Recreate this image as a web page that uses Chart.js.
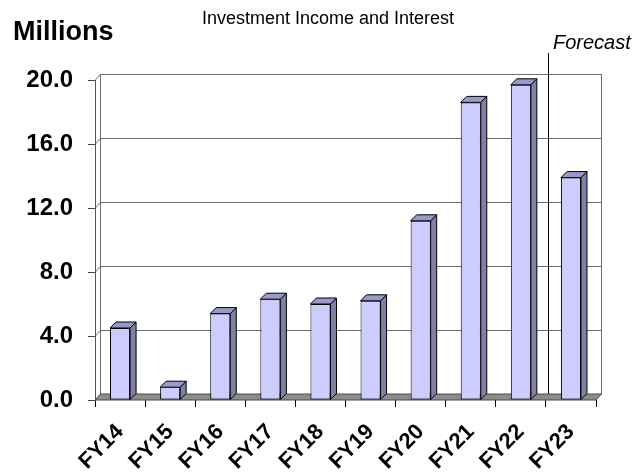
<!DOCTYPE html>
<html lang="en">
<head>
  <meta charset="UTF-8" />
  <title>Investment Income and Interest</title>
  <script src="https://cdn.jsdelivr.net/npm/chart.js"></script>
  <style>
    * { box-sizing: border-box; margin: 0; padding: 0; }
    body { background: #fff; width: 634px; height: 475px; overflow: hidden; }
    #chart { display: block; }
  </style>
</head>
<body>
  <canvas id="chart" width="634" height="475"></canvas>

  <script>
    // Data
    const categories = ['FY14', 'FY15', 'FY16', 'FY17', 'FY18', 'FY19', 'FY20', 'FY21', 'FY22', 'FY23'];
    const incomeValues = [4.5, 0.8, 5.4, 6.3, 6.0, 6.2, 11.2, 18.6, 19.7, 13.9];
    const yTickValues = [0, 4, 8, 12, 16, 20];
    const forecastStart = 'FY23';

    const FONT = 'Arial, "Liberation Sans", sans-serif';
    const WALL_DX = 5, WALL_DY = 6;   // back wall offset
    const BAR_D = 6;                  // bar depth

    function line(ctx, x1, y1, x2, y2) {
      ctx.beginPath();
      ctx.moveTo(x1, y1);
      ctx.lineTo(x2, y2);
      ctx.stroke();
    }

    function poly(ctx, pts, fill) {
      ctx.beginPath();
      ctx.moveTo(pts[0][0], pts[0][1]);
      for (let i = 1; i < pts.length; i++) ctx.lineTo(pts[i][0], pts[i][1]);
      ctx.closePath();
      ctx.fillStyle = fill;
      ctx.fill();
      ctx.stroke();
    }

    // fake 3D: back wall, floor, bar sides and tops
    const depthPlugin = {
      id: 'depth',
      beforeDatasetsDraw(chart) {
        const { ctx, chartArea: a, scales: { x, y } } = chart;
        const L = a.left + WALL_DX + 0.5, R = a.right + WALL_DX + 0.5;
        const T = a.top - WALL_DY, B = a.bottom - WALL_DY;
        ctx.save();
        ctx.lineWidth = 1;
        ctx.strokeStyle = '#6e6e6e';
        y.ticks.forEach(t => {
          const py = Math.round(y.getPixelForValue(t.value)) + 0.5;
          line(ctx, L, py - WALL_DY, R, py - WALL_DY);
          line(ctx, a.left, py, L, py - WALL_DY);
        });
        line(ctx, L, T, L, B);
        line(ctx, R, T, R, B);

        // forecast divider
        const idx = categories.indexOf(forecastStart);
        const fx = Math.round(x.getPixelForValue(idx - 0.5)) + 2.5;
        ctx.strokeStyle = '#000';
        line(ctx, fx, 53, fx, B);

        // floor
        ctx.strokeStyle = '#4a4a4a';
        poly(ctx, [[a.left, a.bottom], [a.right, a.bottom], [R, B], [L, B]], '#8c8c8c');
        ctx.restore();
      },
      afterDatasetsDraw(chart) {
        const { ctx } = chart;
        const meta = chart.getDatasetMeta(0);
        ctx.save();
        ctx.lineWidth = 1;
        ctx.strokeStyle = '#000';
        meta.data.forEach(bar => {
          const { x, y, base, width } = bar.getProps(['x', 'y', 'base', 'width'], true);
          const xl = x - width / 2, xr = x + width / 2;
          poly(ctx, [[xr, y], [xr + BAR_D, y - BAR_D], [xr + BAR_D, base - BAR_D], [xr, base]], '#7f7fa8');
          poly(ctx, [[xl, y], [xl + BAR_D, y - BAR_D], [xr + BAR_D, y - BAR_D], [xr, y]], '#9999c8');
        });
        ctx.restore();
      },
      afterDraw(chart) {
        const { ctx } = chart;
        ctx.save();
        ctx.fillStyle = '#000';
        ctx.textBaseline = 'alphabetic';
        ctx.textAlign = 'center';
        ctx.font = '18px ' + FONT;
        ctx.fillText('Investment Income and Interest', 328, 24);
        ctx.textAlign = 'left';
        ctx.font = 'bold 27px ' + FONT;
        ctx.fillText('Millions', 13, 40);
        ctx.font = 'italic 20px ' + FONT;
        ctx.fillText('Forecast', 553, 49);
        ctx.restore();
      }
    };

    new Chart(document.getElementById('chart'), {
      type: 'bar',
      data: {
        labels: categories,
        datasets: [{
          label: 'Investment Income and Interest',
          data: incomeValues,
          backgroundColor: '#ccccff',
          borderColor: '#000',
          borderWidth: 1,
          borderSkipped: false,
          categoryPercentage: 0.8,
          barPercentage: 0.5
        }]
      },
      options: {
        responsive: false,
        animation: false,
        devicePixelRatio: 1,
        layout: { padding: { top: 80, right: 38, left: 0, bottom: 0 } },
        plugins: {
          legend: { display: false },
          title: { display: false },
          tooltip: { enabled: false }
        },
        scales: {
          x: {
            grid: { offset: true, drawOnChartArea: false, drawTicks: true, tickLength: 7, color: '#000' },
            border: { display: false },
            ticks: {
              color: '#000',
              font: { family: FONT, size: 22, weight: 'bold' },
              minRotation: 45,
              maxRotation: 45,
              padding: 12
            },
            afterFit: s => { s.height = 75; }
          },
          y: {
            min: 0,
            max: 20,
            afterBuildTicks: s => { s.ticks = yTickValues.map(v => ({ value: v })); },
            ticks: {
              color: '#000',
              font: { family: FONT, size: 24, weight: 'bold' },
              padding: 15,
              callback: v => Number(v).toFixed(1)
            },
            grid: { drawOnChartArea: false, drawTicks: true, tickLength: 7, color: '#444' },
            border: { display: true, color: '#555' },
            afterFit: s => { s.width = 95; }
          }
        }
      },
      plugins: [depthPlugin]
    });
  </script>
</body>
</html>
